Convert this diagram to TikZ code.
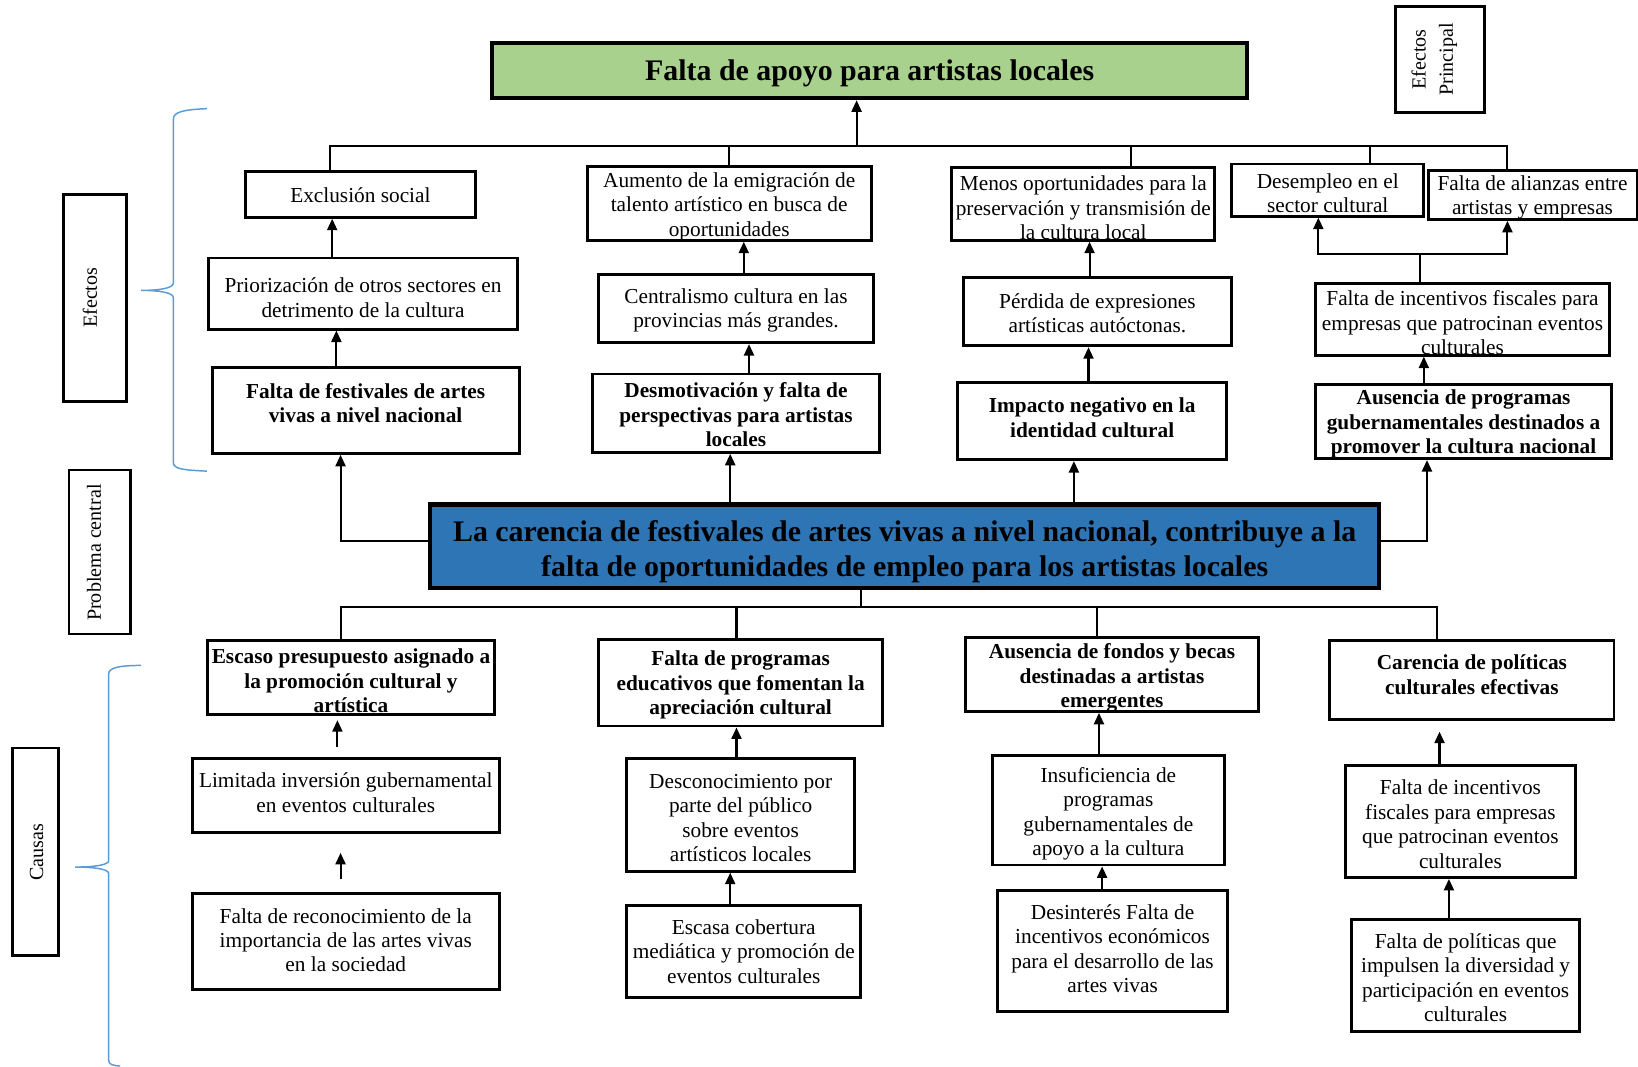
\documentclass[tikz,border=0pt]{standalone}
\usepackage{fontspec}
\setmainfont{Liberation Serif}
\usetikzlibrary{arrows.meta,calc}
\definecolor{titlegreen}{RGB}{169,209,142}
\definecolor{coreblue}{RGB}{46,117,182}
\definecolor{bracecol}{RGB}{91,155,213}

% box from (x1,y1) to (x2,y2) with its text centred at height ty
% \entry[text style]{name}{x1}{y1}{x2}{y2}{ty}{text}
\newcommand{\entry}[8][lbl]{%
  \node[cell,minimum width={(#5-#3)*0.5pt},minimum height={(#6-#4)*0.5pt}]
    (#2) at ({(#3+#5)/2},{(#4+#6)/2}) {};
  \node[#1] (#2-t) at ({(#3+#5)/2},#7) {#8};}

\begin{document}
\begin{tikzpicture}[x=0.5pt,y=-0.5pt,
  cell/.style={draw=black,line width=1.4pt,fill=white,inner sep=0pt},
  side/.style={draw=black,line width=1.3pt,fill=white,inner sep=0pt},
  lbl/.style={align=center,inner sep=0pt,yshift=-1pt,font=\fontsize{10.2}{11.7}\selectfont},
  boldlbl/.style={lbl,font=\fontsize{10.2}{11.7}\selectfont\bfseries},
  headlbl/.style={align=center,inner sep=0pt,yshift=-1.5pt,font=\fontsize{14.3}{16.5}\selectfont\bfseries},
  sidelbl/.style={align=center,inner sep=0pt,rotate=90,font=\fontsize{9.6}{13}\selectfont},
  conn/.style={draw=black,line width=1pt},
  arr/.style={conn,-{Triangle[length=5.5pt,width=4.8pt]}},
  arrs/.style={conn,{Triangle[length=5.5pt,width=4.8pt]}-{Triangle[length=5.5pt,width=4.8pt]}},
  brace/.style={draw=bracecol,line width=0.7pt}]
\useasboundingbox (0,0) rectangle (1568,1021);

% ---- side labels ----
\node[side,minimum width=42.5pt,minimum height=51pt] (sprin) at (1378.5,57) {};
\node[sidelbl] (sprin-t) at (1373,57) {Efectos\\Principal};
\node[side,minimum width=30pt,minimum height=99pt] (sefe) at (91,285) {};
\node[sidelbl] (sefe-t) at (86,285) {Efectos};
\node[side,minimum width=29.5pt,minimum height=78.5pt] (sprob) at (95.5,528.5) {};
\node[sidelbl] (sprob-t) at (90,529) {Problema central};
\node[side,minimum width=22pt,minimum height=99.5pt] (scau) at (34,815.5) {};
\node[sidelbl] (scau-t) at (35,816) {Causas};

% ---- braces ----
\draw[brace] (198,104) .. controls (176,105) and (166,107) .. (166,114)
  -- (166,271) .. controls (166,276) and (152,278) .. (135,278)
  .. controls (152,278) and (166,280) .. (166,285)
  -- (166,443) .. controls (166,449) and (176,450) .. (198,451);
\draw[brace] (135,637) .. controls (115,637) and (104,639) .. (104,645)
  -- (104,824) .. controls (104,828) and (90,830) .. (72,830)
  .. controls (90,830) and (104,832) .. (104,836)
  -- (104,1015) .. controls (104,1019) and (108,1020) .. (115,1020.5);

% ---- main effect and central problem ----
\node[draw=black,line width=2pt,fill=titlegreen,minimum width=361.5pt,minimum height=26.5pt]
  (tit) at (832.5,67.5) {};
\node[headlbl] (tit-t) at (832.5,67) {Falta de apoyo para artistas locales};
\node[draw=black,line width=2pt,fill=coreblue,minimum width=454pt,minimum height=40pt]
  (mainp) at (866,523) {};
\node[headlbl] (mainp-t) at (866,525) {La carencia de festivales de artes vivas a nivel nacional, contribuye a la\\
  falta de oportunidades de empleo para los artistas locales};

% ---- effects ----
\entry{exc}{235}{164}{455}{208}{185}{Exclusión social}
\entry{aum}{562}{159}{834}{230}{196}{Aumento de la emigración de\\talento artístico en busca de\\oportunidades}
\entry{men}{911}{160}{1163}{230}{197}{Menos oportunidades para la\\preservación y transmisión de\\la cultura local}
\entry{dem1}{1179}{157}{1363}{207}{183}{Desempleo en el\\sector cultural}
\entry{ali}{1367}{163}{1567}{210}{187}{Falta de alianzas entre\\artistas y empresas}

\entry{pri}{200}{247}{495}{315}{283}{Priorización de otros sectores en\\detrimento de la cultura}
\entry{cnt}{573}{263}{836}{328}{295}{Centralismo cultura en las\\provincias más grandes.}
\entry{per}{922}{266}{1179}{331}{298}{Pérdida de expresiones\\artísticas autóctonas.}
\entry{fis}{1259}{271}{1541}{340}{307}{Falta de incentivos fiscales para\\empresas que patrocinan eventos\\culturales}

\entry[boldlbl]{fes}{203}{352}{497}{434}{384}{Falta de festivales de artes\\vivas a nivel nacional}
\entry[boldlbl]{dmt}{567}{358}{842}{433}{395}{Desmotivación y falta de\\perspectivas para artistas\\locales}
\entry[boldlbl]{imp}{917}{366}{1174}{440}{398}{Impacto negativo en la\\identidad cultural}
\entry[boldlbl]{aus}{1259}{368}{1543}{439}{404}{Ausencia de programas\\gubernamentales destinados a\\promover la cultura nacional}

% ---- causes ----
\entry[boldlbl]{esc}{199}{613}{473}{684}{650}{Escaso presupuesto asignado a\\la promoción cultural y\\artística}
\entry[boldlbl]{prg}{573}{612}{845}{695}{654}{Falta de programas\\educativos que fomentan la\\apreciación cultural}
\entry[boldlbl]{fon}{924}{610}{1205}{681}{647}{Ausencia de fondos y becas\\destinadas a artistas\\emergentes}
\entry[boldlbl]{car}{1273}{613}{1545}{689}{644}{Carencia de políticas\\culturales efectivas}

\entry{lim}{184}{726}{478}{797}{757}{Limitada inversión gubernamental\\en eventos culturales}
\entry{dsc}{600}{726}{818}{834}{781}{Desconocimiento por\\parte del público\\sobre eventos\\artísticos locales}
\entry{ins}{950}{723}{1172}{828}{777}{Insuficiencia de\\programas\\gubernamentales de\\apoyo a la cultura}
\entry{fi2}{1288}{733}{1508}{840}{787}{Falta de incentivos\\fiscales para empresas\\que patrocinan eventos\\culturales}

\entry{rec}{184}{855}{478}{947}{898}{Falta de reconocimiento de la\\importancia de las artes vivas\\en la sociedad}
\entry{cob}{600}{867}{824}{955}{909}{Escasa cobertura\\mediática y promoción de\\eventos culturales}
\entry{dsi}{955}{852}{1175}{968}{906}{Desinterés Falta de\\incentivos económicos\\para el desarrollo de las\\artes vivas}
\entry{pol}{1294}{880}{1512}{987}{934}{Falta de políticas que\\impulsen la diversidad y\\participación en eventos\\culturales}

% ---- connectors: effects ----
\coordinate (btL) at (316,140);
\coordinate (btR) at (1443,140);
\coordinate (jt) at (820,140);
\draw[conn] (btL |- exc.north) -- (btL) -- (btR) -- (btR |- ali.north);
\draw[conn] (aum.north |- btL) -- (aum.north);
\draw[conn] (1083,0 |- btL) -- (1083,0 |- men.north);
\draw[conn] (1311,0 |- btL) -- (1311,0 |- dem1.north);
\draw[arr] (jt) -- (jt |- tit.south);

\draw[arr] (318,0 |- pri.north) -- (318,0 |- exc.south);
\draw[arr] (712,0 |- cnt.north) -- (712,0 |- aum.south);
\draw[arr] (1043,0 |- per.north) -- (1043,0 |- men.south);
\coordinate (fj) at (1359,243);
\draw[conn] (fj |- fis.north) -- (fj);
\draw[arrs] (1262,0 |- dem1.south) -- (1262,0 |- fj) -- (1443,0 |- fj) -- (1443,0 |- ali.south);

\draw[arr] (322,0 |- fes.north) -- (322,0 |- pri.south);
\draw[arr] (717,0 |- dmt.north) -- (717,0 |- cnt.south);
\draw[arr] (1042,0 |- imp.north) -- (1042,0 |- per.south);
\draw[arr] (1363,0 |- aus.north) -- (1363,0 |- fis.south);

% ---- connectors: central problem ----
\draw[arr] (mainp.west |- 0,518) -| (326,0 |- fes.south);
\draw[arr] (699,0 |- mainp.north) -- (699,0 |- dmt.south);
\draw[arr] (1028,0 |- mainp.north) -- (1028,0 |- imp.south);
\draw[arr] (mainp.east |- 0,518) -| (1366,0 |- aus.south);

\coordinate (bb) at (824,581);
\draw[conn] (bb |- mainp.south) -- (bb);
\draw[conn] (326,0 |- esc.north) -- (326,581) -- (1376,581) -- (1376,0 |- car.north);
\draw[conn] (705,581) -- (705,0 |- prg.north);
\draw[conn] (1050,581) -- (1050,0 |- fon.north);

% ---- connectors: causes ----
\draw[arr] ($(323,0 |- lim.north)+(0,-10)$) -- ($(323,0 |- esc.south)+(0,4)$);
\draw[arr] (705,0 |- dsc.north) -- (705,0 |- prg.south);
\draw[arr] (1052,0 |- ins.north) -- (1052,0 |- fon.south);
\draw[arr] (1378,0 |- fi2.north) -- ($(1378,0 |- car.south)+(0,10)$);

\draw[arr] ($(326,0 |- rec.north)+(0,-12)$) -- ($(326,0 |- lim.south)+(0,18)$);
\draw[arr] (699,0 |- cob.north) -- (699,0 |- dsc.south);
\draw[arr] (1055,0 |- dsi.north) -- (1055,0 |- ins.south);
\draw[arr] (1387,0 |- pol.north) -- (1387,0 |- fi2.south);
\end{tikzpicture}
\end{document}
